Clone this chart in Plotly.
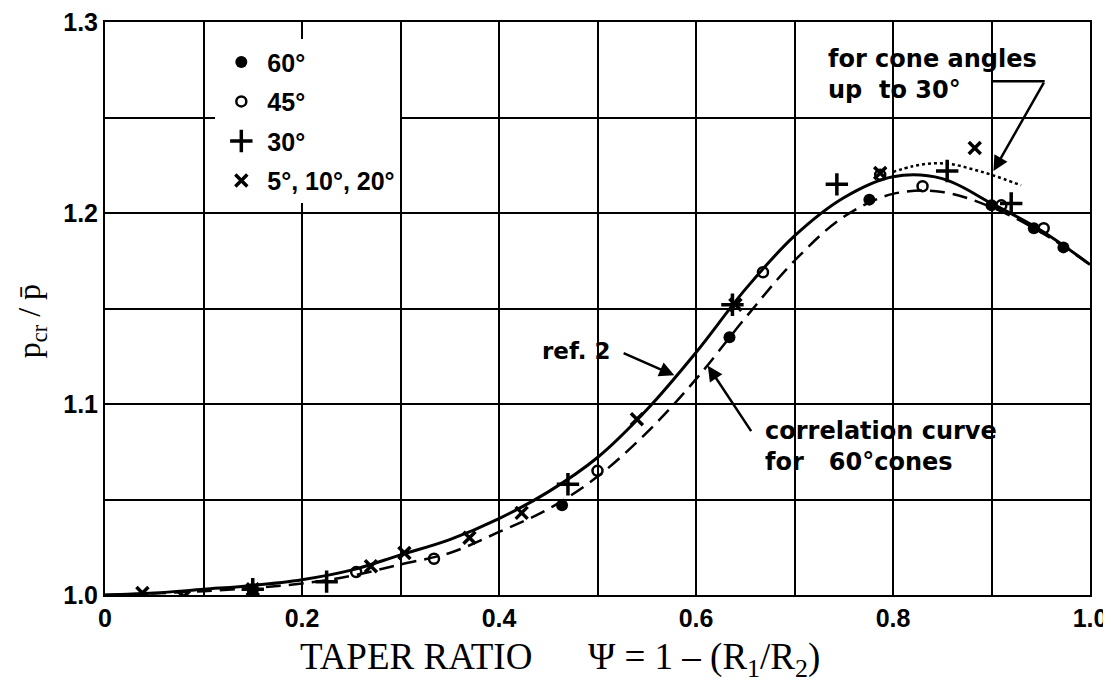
import plotly.graph_objects as go

# ---- data ----
# ref. 2 curve (solid)
ref2_x = [0.0, 0.05, 0.1, 0.15, 0.2, 0.25, 0.3, 0.35, 0.4, 0.45, 0.5, 0.55, 0.6, 0.65, 0.7, 0.75, 0.8, 0.85, 0.9, 0.95, 1.0]
ref2_y = [1.000, 1.001, 1.003, 1.005, 1.008, 1.013, 1.021, 1.029, 1.040, 1.054, 1.072, 1.097, 1.127, 1.160, 1.188, 1.208, 1.219, 1.218, 1.205, 1.191, 1.173]
# correlation curve for 60° cones (dashed)
corr_x = [0.0, 0.1, 0.2, 0.25, 0.3, 0.35, 0.4, 0.45, 0.5, 0.55, 0.6, 0.65, 0.7, 0.75, 0.8, 0.85, 0.9, 0.95, 1.0]
corr_y = [1.000, 1.002, 1.006, 1.010, 1.016, 1.022, 1.033, 1.045, 1.062, 1.085, 1.113, 1.145, 1.175, 1.198, 1.210, 1.211, 1.203, 1.190, 1.173]
# for cone angles up to 30° (dotted)
dot_x = [0.80, 0.82, 0.84, 0.86, 0.88, 0.90, 0.93]
dot_y = [1.2215, 1.2245, 1.226, 1.2255, 1.223, 1.220, 1.2145]

# test points
c60_x = [0.464, 0.634, 0.776, 0.900, 0.943, 0.973]
c60_y = [1.047, 1.135, 1.207, 1.204, 1.192, 1.182]
c45_x = [0.150, 0.255, 0.334, 0.500, 0.668, 0.787, 0.830, 0.910, 0.953]
c45_y = [1.003, 1.012, 1.019, 1.065, 1.169, 1.220, 1.214, 1.204, 1.192]
c30_x = [0.150, 0.225, 0.470, 0.637, 0.743, 0.855, 0.920]
c30_y = [1.003, 1.007, 1.058, 1.152, 1.215, 1.222, 1.205]
c5_x = [0.038, 0.080, 0.150, 0.270, 0.304, 0.370, 0.423, 0.540, 0.640, 0.787, 0.883]
c5_y = [1.001, 0.999, 1.003, 1.015, 1.022, 1.030, 1.043, 1.092, 1.152, 1.221, 1.234]

x_ticks = [0.0, 0.2, 0.4, 0.6, 0.8, 1.0]
x_tick_labels = ["0", "0.2", "0.4", "0.6", "0.8", "1.0"]
y_ticks = [1.0, 1.1, 1.2, 1.3]
y_tick_labels = ["1.0", "1.1", "1.2", "1.3"]

legend_labels = ["60°", "45°", "30°", "5°, 10°, 20°"]

# ---- figure ----
fig = go.Figure()

fig.add_trace(go.Scatter(x=ref2_x, y=ref2_y, mode="lines", line=dict(color="black", width=3, shape="spline"),
                         showlegend=False, hoverinfo="skip"))
fig.add_trace(go.Scatter(x=corr_x, y=corr_y, mode="lines",
                         line=dict(color="black", width=2.5, dash="15px,8px", shape="spline"),
                         showlegend=False, hoverinfo="skip"))
fig.add_trace(go.Scatter(x=dot_x, y=dot_y, mode="lines", line=dict(color="black", width=2.5, dash="dot", shape="spline"),
                         showlegend=False, hoverinfo="skip"))

fig.add_trace(go.Scatter(x=c60_x, y=c60_y, mode="markers", name=legend_labels[0], legendgroup="g60",
                         marker=dict(symbol="circle", size=12, color="black")))
fig.add_trace(go.Scatter(x=c45_x, y=c45_y, mode="markers", name=legend_labels[1], legendgroup="g45",
                         marker=dict(symbol="circle-open", size=10, color="black", line=dict(width=2.5, color="black"))))
fig.add_trace(go.Scatter(x=c30_x, y=c30_y, mode="markers", name=legend_labels[2], legendgroup="g30",
                         marker=dict(symbol="cross-thin", size=16, color="black", line=dict(width=3.5, color="black"))))
fig.add_trace(go.Scatter(x=c5_x, y=c5_y, mode="markers", name=legend_labels[3], legendgroup="g5",
                         marker=dict(symbol="x-thin", size=12, color="black", line=dict(width=3.5, color="black"))))

ann_font = dict(family="DejaVu Sans, sans-serif", size=24, color="black")

fig.add_annotation(x=0.732, y=1.289, xref="x", yref="y", xanchor="left", yanchor="top", align="left",
                   text="<b>for cone angles</b><br><b>up  to 30°</b>", showarrow=False, font=ann_font)
fig.add_annotation(x=0.515, y=1.128, xref="x", yref="y", xanchor="right", yanchor="middle",
                   text="<b>ref. 2</b>", showarrow=False, font=dict(family="DejaVu Sans, sans-serif", size=23, color="black"))
fig.add_annotation(x=0.668, y=1.094, xref="x", yref="y", xanchor="left", yanchor="top", align="left",
                   text="<b>correlation curve</b><br><b>for   60°cones</b>", showarrow=False, font=ann_font)

# arrows
fig.add_annotation(x=0.578, y=1.115, ax=0.525, ay=1.127, xref="x", yref="y", axref="x", ayref="y",
                   showarrow=True, arrowhead=2, arrowsize=1.2, arrowwidth=2.5, arrowcolor="black", text="")
fig.add_annotation(x=0.612, y=1.120, ax=0.657, ay=1.085, xref="x", yref="y", axref="x", ayref="y",
                   showarrow=True, arrowhead=2, arrowsize=1.2, arrowwidth=2.5, arrowcolor="black", text="")
fig.add_annotation(x=0.902, y=1.222, ax=0.954, ay=1.269, xref="x", yref="y", axref="x", ayref="y",
                   showarrow=True, arrowhead=2, arrowsize=1.2, arrowwidth=2.5, arrowcolor="black", text="")
fig.add_shape(type="line", x0=0.901, y0=1.269, x1=0.954, y1=1.269, xref="x", yref="y",
              line=dict(color="black", width=2.5))

# axis titles as annotations
fig.add_annotation(x=0.196, y=-0.113, xref="paper", yref="paper", xanchor="left", yanchor="middle",
                   text="TAPER RATIO&nbsp;&nbsp;&nbsp;&nbsp;&nbsp;&nbsp;Ψ = 1 – (R<sub>1</sub>/R<sub>2</sub>)",
                   showarrow=False,
                   font=dict(family="Liberation Serif, Times New Roman, serif", size=37, color="black"))
fig.add_annotation(x=-0.075, y=0.478, xref="paper", yref="paper", xanchor="center", yanchor="middle",
                   text="p<sub>cr</sub> / p̄", textangle=-90, showarrow=False,
                   font=dict(family="Liberation Serif, Times New Roman, serif", size=32, color="black"))

sans = "Liberation Sans, Arial, sans-serif"
tick_font = dict(family=sans, size=25, color="black", weight="bold")

fig.update_layout(
    width=1103, height=677,
    margin=dict(l=97, r=21, t=14, b=90),
    paper_bgcolor="white", plot_bgcolor="white",
    legend=dict(x=0.112, y=0.97, xanchor="left", yanchor="top", bgcolor="white",
                font=dict(family=sans, size=25, color="black", weight="bold"),
                itemwidth=42, tracegroupgap=4),
    xaxis=dict(range=[0, 1.0], tickvals=x_ticks, ticktext=x_tick_labels, tickfont=tick_font,
               ticklabeloverflow="allow",
               showgrid=True, gridcolor="black", gridwidth=2, automargin=False,
               showline=True, linecolor="black", linewidth=2, mirror=True, zeroline=False, ticks="",
               minor=dict(dtick=0.1, tick0=0, showgrid=True, gridcolor="black", gridwidth=2)),
    yaxis=dict(range=[1.0, 1.3], tickvals=y_ticks, ticktext=y_tick_labels, tickfont=tick_font,
               ticklabeloverflow="allow",
               showgrid=True, gridcolor="black", gridwidth=2, automargin=False,
               showline=True, linecolor="black", linewidth=2, mirror=True, zeroline=False, ticks="",
               minor=dict(dtick=0.05, tick0=1.0, showgrid=True, gridcolor="black", gridwidth=2)),
)

fig.write_html("out.html")
